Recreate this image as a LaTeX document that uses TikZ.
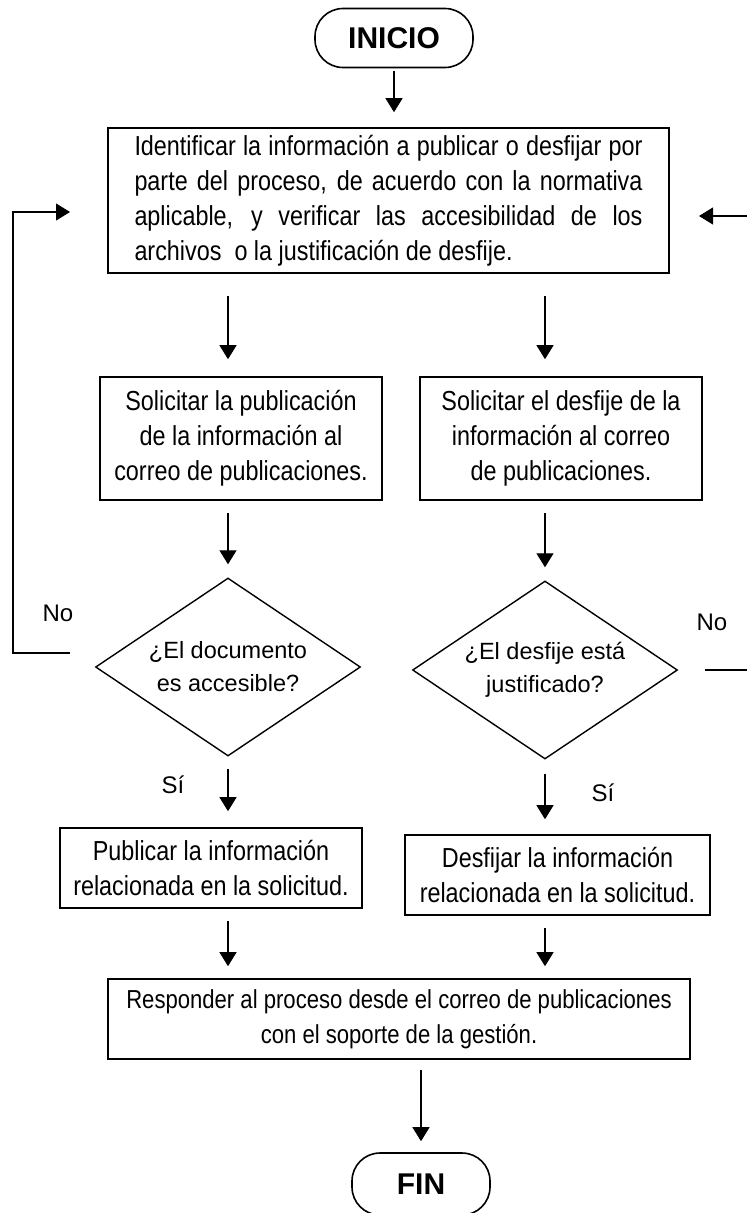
\documentclass[tikz,border=0pt]{standalone}
\usepackage{fontspec}
\setmainfont{Liberation Sans}
\newfontfamily\narrowfont{Liberation Sans}[FakeStretch=0.85]
\usepackage{tikz}
\usetikzlibrary{shapes,arrows,positioning,calc,arrows.meta}

\tikzset{
    proc/.style={draw, line width=1.6pt, align=center, inner sep=0pt, font=\narrowfont\fontsize{27.5}{35}\selectfont},
    term/.style={draw, line width=1.6pt, rounded corners=28pt, font=\fontsize{30}{36}\selectfont\bfseries},
    decis/.style={draw, diamond, shape aspect=1.49, line width=1.4pt, align=center, inner sep=0pt, minimum width=265pt, minimum height=178pt, font=\fontsize{23.5}{33}\selectfont},
    arr/.style={line width=1.1pt, -{Triangle[length=14pt,width=17pt]}},
    lbl/.style={font=\fontsize{24}{30}\selectfont}
}

\begin{document}
\begin{tikzpicture}[x=1pt,y=-1pt]
    \useasboundingbox (0,0) rectangle (747,1213);
    \node[term, minimum width=158pt, minimum height=59pt] (inicio) at (394,38) {INICIO};
    \node[proc, align=left, minimum width=561pt, minimum height=145pt] (ident) at (388.5,200.5) {\makebox[508pt][s]{Identificar la información a publicar o desfijar por}\\
        \makebox[508pt][s]{parte del proceso, de acuerdo con la normativa}\\
        \makebox[508pt][s]{aplicable, y verificar las accesibilidad de los}\\
        archivos\ \ o la justificación de desfije.};
    \node[proc, minimum width=282pt, minimum height=123pt] (solpub) at (241,438.5) {Solicitar la publicación\\de la información al\\correo de publicaciones.};
    \node[proc, minimum width=282pt, minimum height=123pt] (soldes) at (561,438.5) {Solicitar el desfije de la\\información al correo\\de publicaciones.};
    \node[decis] (docacc) at (228,667) {¿El documento\\es accesible?};
    \node[decis] (desjus) at (545,670) {¿El desfije está\\justificado?};
    \node[proc, minimum width=302pt, minimum height=80pt] (publicar) at (211,868) {Publicar la información\\relacionada en la solicitud.};
    \node[proc, minimum width=305pt, minimum height=80pt] (desfijar) at (557.5,875) {Desfijar la información\\relacionada en la solicitud.};
    \node[proc, minimum width=582pt, minimum height=80pt, font=\narrowfont\fontsize{26}{35}\selectfont] (responder) at (399,1019) {Responder al proceso desde el correo de publicaciones\\con el soporte de la gestión.};
    \node[term, minimum width=138pt, minimum height=62pt] (fin) at (421,1184) {FIN};

    \node[lbl] (noa) at (58,613) {No};
    \node[lbl] (nob) at (712,622) {No};
    \node[lbl] (sia) at (173,785) {Sí};
    \node[lbl] (sib) at (603,793) {Sí};

    \draw[arr, shorten <=3pt, shorten >=15pt] (inicio.south) -- (inicio.south |- ident.north);
    \draw[arr, shorten <=22pt, shorten >=17pt] (ident.south -| docacc) -- (solpub.north -| docacc);
    \draw[arr, shorten <=22pt, shorten >=17pt] (ident.south -| desjus) -- (soldes.north -| desjus);
    \draw[arr, shorten <=12pt, shorten >=13pt] (solpub.south -| docacc) -- (docacc.north);
    \draw[arr, shorten <=12pt, shorten >=13pt] (soldes.south -| desjus) -- (desjus.north);
    \draw[arr, shorten <=12pt, shorten >=16pt] (docacc.south) -- (publicar.north -| docacc);
    \draw[arr, shorten <=14pt, shorten >=15pt] (desjus.south) -- (desfijar.north -| desjus);
    \draw[arr, shorten <=12pt, shorten >=12pt] (publicar.south -| docacc) -- (responder.north -| docacc);
    \draw[arr, shorten <=12pt, shorten >=12pt] (desfijar.south -| desjus) -- (responder.north -| desjus);
    \draw[arr, shorten <=10pt, shorten >=11pt] (responder.south -| fin) -- (fin.north);

    \coordinate (lowL) at (70,653);
    \coordinate (cornL) at (13,653);
    \coordinate (topL) at (70,212);
    \draw[arr] (lowL) -- (cornL) |- (topL);
    \coordinate (lowR) at (705,670);
    \coordinate (edgeR) at (747,670);
    \draw[line width=1.1pt] (lowR) -- (edgeR);
    \coordinate (topR) at (747,216);
    \coordinate (tipR) at (699,216);
    \draw[arr] (topR) -- (tipR);
\end{tikzpicture}
\end{document}
